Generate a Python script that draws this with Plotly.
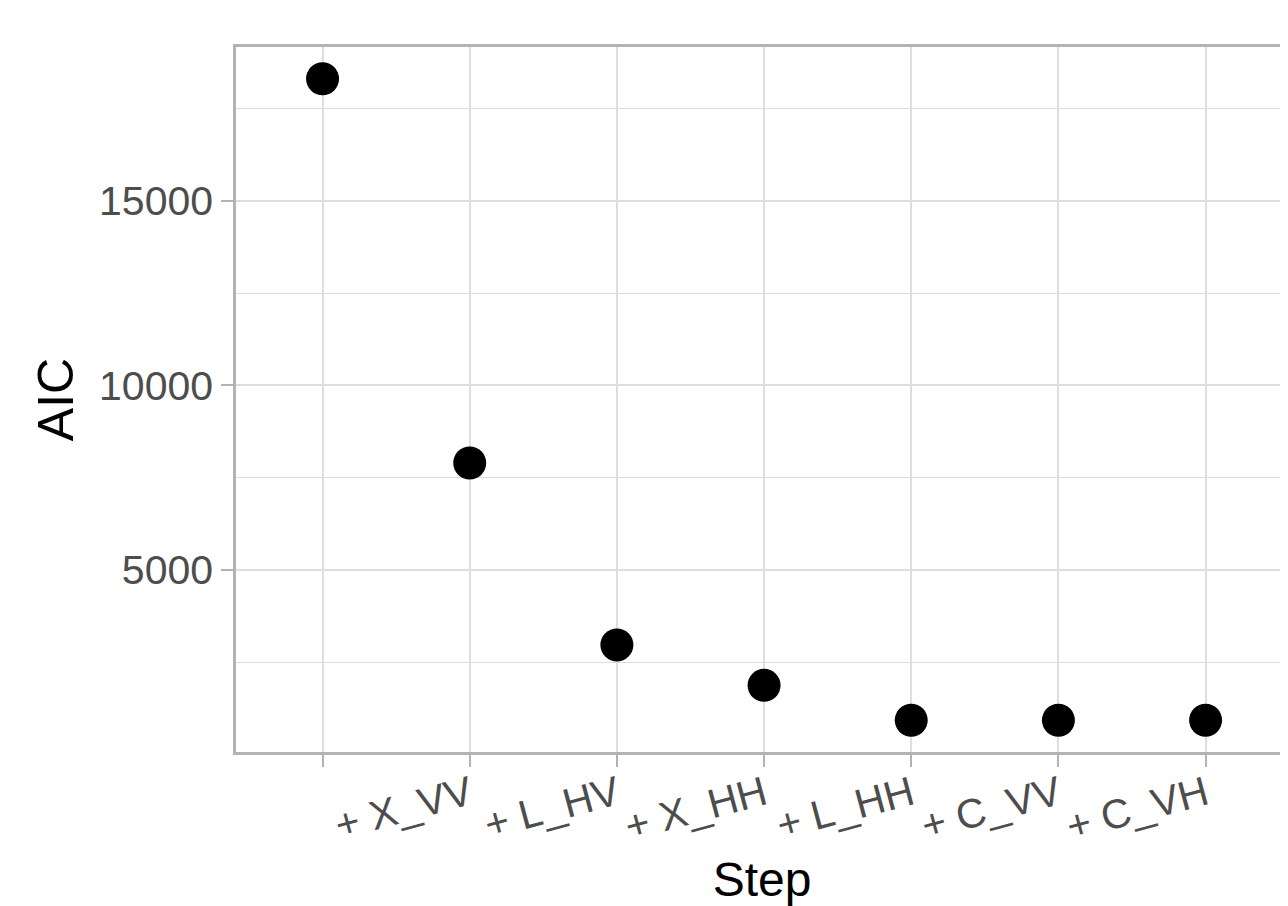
import plotly.graph_objects as go

steps = ["", "+ X_VV", "+ L_HV", "+ X_HH", "+ L_HH", "+ C_VV", "+ C_VH"]
aic = [18300, 7900, 2975, 1880, 935, 935, 935]
y_ticks = [5000, 10000, 15000]

x_idx = list(range(len(steps)))

fig = go.Figure()
fig.add_trace(go.Scatter(
    x=x_idx, y=aic, mode="markers",
    marker=dict(color="black", size=33, line=dict(width=0)),
    showlegend=False,
))

border = "#B3B3B3"
grid = "#DEDEDE"
font = "Liberation Sans, Arial, sans-serif"

fig.update_layout(
    width=1280, height=898,
    margin=dict(l=228, r=0, t=39, b=154),
    paper_bgcolor="white", plot_bgcolor="white",
    font=dict(family=font),
)
fig.update_xaxes(
    range=[-0.588, 6.56],
    tickvals=x_idx, ticktext=steps,
    tickangle=-15,
    ticklabelstandoff=-12,
    tickfont=dict(size=41, color="#4D4D4D", family=font),
    ticks="outside", ticklen=12, tickwidth=2, tickcolor=border,
    showgrid=True, gridcolor=grid, gridwidth=2,
    showline=True, linecolor=border, linewidth=2.5, mirror=True,
    zeroline=False, automargin=False,
    title=dict(text="Step", font=dict(size=48, color="black", family=font), standoff=24),
)
fig.update_yaxes(
    range=[76, 19160],
    tickvals=y_ticks, ticktext=[str(v) for v in y_ticks],
    tickfont=dict(size=41, color="#4D4D4D", family=font),
    ticks="outside", ticklen=12, tickwidth=2, tickcolor=border,
    showgrid=True, gridcolor=grid, gridwidth=2,
    minor=dict(dtick=2500, tick0=0, showgrid=True, gridcolor=grid, gridwidth=1, ticks=""),
    showline=True, linecolor=border, linewidth=2.5, mirror=False,
    zeroline=False, automargin=False,
    title=dict(text="AIC", font=dict(size=50, color="black", family=font), standoff=10),
)

fig.write_html("out.html")
